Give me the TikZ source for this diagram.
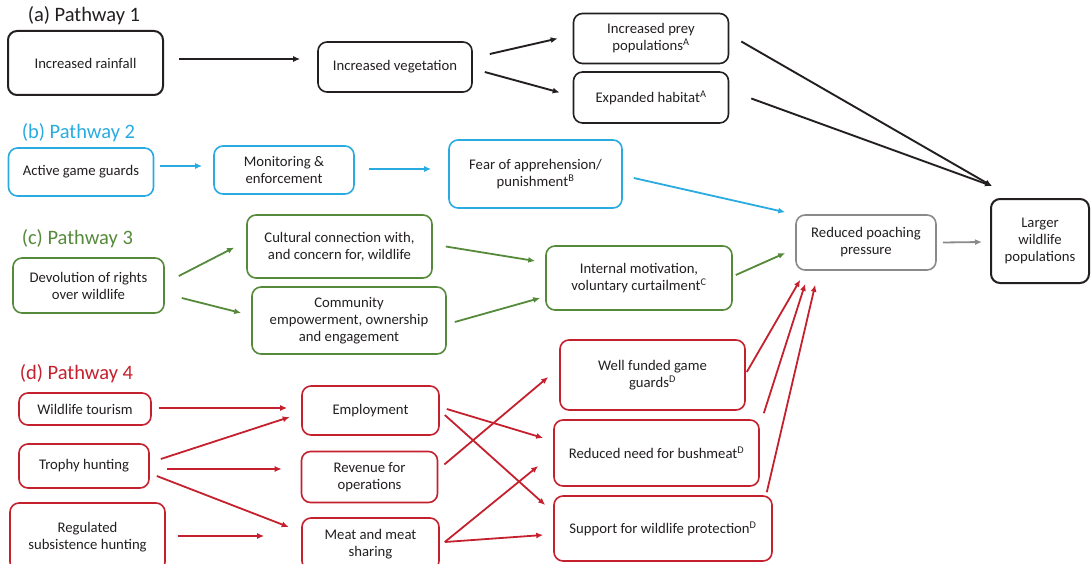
\documentclass[tikz,border=0pt]{standalone}
\usepackage{fontspec}
\setmainfont{Carlito}
\usepackage{tikz}
\usetikzlibrary{arrows.meta}
\definecolor{inktext}{HTML}{231F20}
\definecolor{pwblack}{HTML}{231F20}
\definecolor{pwblue}{HTML}{29ABE2}
\definecolor{pwgreen}{HTML}{568A3B}
\definecolor{pwred}{HTML}{C5202E}
\definecolor{pwgray}{HTML}{8A8A8A}

\begin{document}
\begin{tikzpicture}[x=1pt, y=-1pt,
	box/.style={draw, rounded corners=9pt, align=center, inner sep=2pt, line width=1.6pt,
		text=inktext, font=\fontsize{14.7}{17}\selectfont},
	sz/.style 2 args={minimum width=#1pt, minimum height=#2pt},
	pathtitle/.style={anchor=west, inner sep=0pt, font=\fontsize{20.5}{24}\selectfont}]
	\useasboundingbox (0,0) rectangle (1091,564);

	% (a) pathway 1
	\begin{scope}[every node/.style={box, draw=pwblack}]
		\node[pathtitle, draw=none, text=pwblack] (ta) at (27,16) {(a) Pathway 1};
		\node[sz={155}{64}, line width=2pt] (rain) at (85.5,63) {Increased rainfall};
		\node[sz={154}{50}] (veg) at (395,67) {Increased vegetation};
		\node[sz={155}{50}] (prey) at (651,38.5) {Increased prey\\populations\textsuperscript{A}};
		\node[sz={155}{51}] (hab) at (651,97.5) {Expanded habitat\textsuperscript{A}};
	\end{scope}

	% (b) pathway 2
	\begin{scope}[every node/.style={box, draw=pwblue}]
		\node[pathtitle, draw=none, text=pwblue] (tb) at (21,133) {(b) Pathway 2};
		\node[sz={145}{48}] (guards) at (81,172) {Active game guards};
		\node[sz={140}{48}] (monit) at (284,170) {Monitoring \&\\enforcement};
		\node[sz={173}{68}] (fear) at (535.5,174) {Fear of apprehension/\\punishment\textsuperscript{B}};
	\end{scope}

	% (c) pathway 3
	\begin{scope}[every node/.style={box, draw=pwgreen}]
		\node[pathtitle, draw=none, text=pwgreen] (tc) at (21,239) {(c) Pathway 3};
		\node[sz={151}{55}] (devol) at (88.5,285.5) {Devolution of rights\\over wildlife};
		\node[sz={185}{63}] (cult) at (339.5,246.5) {Cultural connection with,\\and concern for, wildlife};
		\node[sz={194}{67}] (comm) at (349,320.5) {Community\\empowerment, ownership\\and engagement};
		\node[sz={186}{64}] (intern) at (639,278) {Internal motivation,\\voluntary curtailment\textsuperscript{C}};
	\end{scope}

	% common end
	\node[box, draw=pwgray, sz={140}{55}] (reduc) at (866,242.5) {Reduced poaching\\pressure};
	\node[box, draw=pwblack, line width=2pt, sz={98}{84}] (larger) at (1040,241) {Larger\\wildlife\\populations};

	% (d) pathway 4
	\begin{scope}[every node/.style={box, draw=pwred}]
		\node[pathtitle, draw=none, text=pwred] (td) at (19,374) {(d) Pathway 4};
		\node[sz={132}{32}] (tour) at (85,409) {Wildlife tourism};
		\node[sz={130}{44}] (troph) at (84,466) {Trophy hunting};
		\node[sz={155}{68}] (regul) at (87.5,537) {Regulated\\subsistence hunting};
		\node[sz={137}{49}] (employ) at (370.5,410.5) {Employment};
		\node[sz={136}{51}] (reven) at (369.5,477) {Revenue for\\operations};
		\node[sz={137}{52}] (meat) at (370.5,544) {Meat and meat\\sharing};
		\node[sz={185}{70}] (wellf) at (652.5,375) {Well funded game\\guards\textsuperscript{D}};
		\node[sz={205}{66}] (bush) at (656.5,453) {Reduced need for bushmeat\textsuperscript{D}};
		\node[sz={218}{65}] (supp) at (663,528.5) {Support for wildlife protection\textsuperscript{D}};
	\end{scope}

	\begin{scope}[every edge/.style={draw=pwblack, line width=1.9pt, -{Latex[length=7pt,width=6pt]}}]
		\path ([shift={(15,-4)}]rain.east) edge ([shift={(-17,-8)}]veg.west);
		\path ([shift={(17,-13)}]veg.east) edge ([shift={(-15,0)}]prey.west);
		\path ([shift={(12,5)}]veg.east) edge ([shift={(-13,-5)}]hab.west);
		\path ([shift={(12,3)}]prey.east) edge ([shift={(2,-12)}]larger.north west);
		\path ([shift={(22,1)}]hab.east) edge ([shift={(2,-12)}]larger.north west);
	\end{scope}

	\begin{scope}[every edge/.style={draw=pwblue, line width=1.8pt, -{Latex[length=7pt,width=6pt]}}]
		\path ([shift={(6,-6)}]guards.east) edge ([shift={(-11,-4)}]monit.west);
		\path ([shift={(14,-1)}]monit.east) edge ([shift={(-17,-5)}]fear.west);
		\path ([shift={(11,4)}]fear.east) edge ([shift={(-10,-2)}]reduc.north west);
	\end{scope}

	\begin{scope}[every edge/.style={draw=pwgreen, line width=1.8pt, -{Latex[length=7pt,width=6pt]}}]
		\path ([shift={(14,-9.5)}]devol.east) edge ([shift={(-12,1)}]cult.west);
		\path ([shift={(17,12.5)}]devol.east) edge ([shift={(-10,-7.5)}]comm.west);
		\path ([shift={(13,0)}]cult.east) edge ([shift={(-10,-17)}]intern.west);
		\path ([shift={(8,1.5)}]comm.east) edge ([shift={(-5,20)}]intern.west);
		\path ([shift={(3,-3)}]intern.east) edge ([shift={(-10,10.5)}]reduc.west);
	\end{scope}

	\begin{scope}[every edge/.style={draw=pwgray, line width=1.8pt, -{Latex[length=7pt,width=6pt]}}]
		\path ([shift={(6,0)}]reduc.east) edge ([shift={(-8,1)}]larger.west);
	\end{scope}

	\begin{scope}[every edge/.style={draw=pwred, line width=1.8pt, -{Latex[length=7pt,width=6pt]}}]
		\path ([shift={(7,-1)}]tour.east) edge ([shift={(-14,-2.5)}]employ.west);
		\path ([shift={(11,-7)}]troph.east) edge ([shift={(-11.5,6.5)}]employ.west);
		\path ([shift={(17,3)}]troph.east) edge ([shift={(-19,-8)}]reven.west);
		\path ([shift={(7,10)}]troph.east) edge ([shift={(-12.5,-17)}]meat.west);
		\path ([shift={(12,-1)}]regul.east) edge ([shift={(-37,-8)}]meat.west);
		\path ([shift={(7,-1.5)}]employ.east) edge ([shift={(-10,-15)}]bush.west);
		\path ([shift={(5,4.5)}]employ.east) edge ([shift={(-8,-23.5)}]supp.west);
		\path ([shift={(6,-12.5)}]reven.east) edge ([shift={(-11,2)}]wellf.west);
		\path ([shift={(5,-2)}]meat.east) edge ([shift={(-15,13)}]bush.west);
		\path ([shift={(5,-2)}]meat.east) edge ([shift={(-10,6.5)}]supp.west);
		\path ([shift={(1,-3)}]wellf.east) edge ([shift={(5,9)}]reduc.south west);
		\path ([shift={(4,-6)}]bush.north east) edge ([shift={(10,13)}]reduc.south west);
		\path ([shift={(-6,-3)}]supp.north east) edge ([shift={(20,14)}]reduc.south west);
	\end{scope}
\end{tikzpicture}
\end{document}
